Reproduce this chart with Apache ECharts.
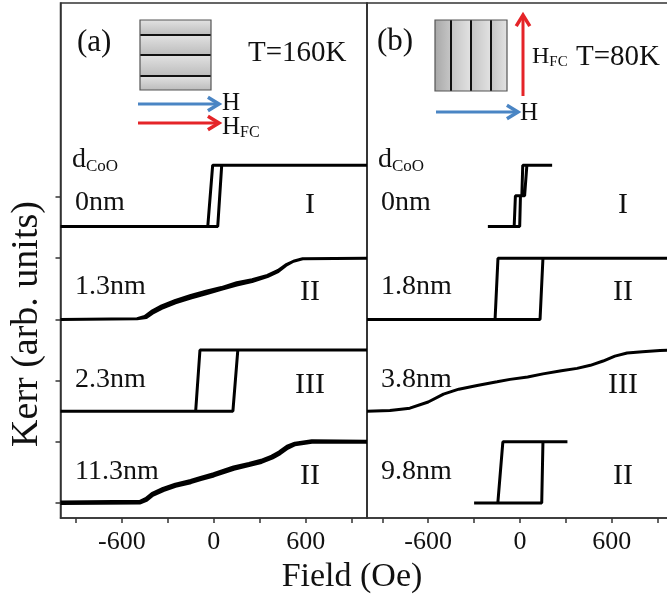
<!DOCTYPE html>
<html>
<head>
<meta charset="utf-8">
<script src="https://cdn.jsdelivr.net/npm/echarts@6/dist/echarts.min.js"></script>
<style>
html, body { margin: 0; padding: 0; background: #fff; }
#chart { width: 667px; height: 600px; }
</style>
</head>
<body>
<div id="chart"></div>
<script>
// field axis (Oe)
var fieldTicks = [-900, -600, -300, 0, 300, 600, 900];
var fieldLabels = [-600, 0, 600];
var kerrTicks = [0, 1, 2, 3, 4, 5];
// vertical shift of each stacked loop (arb. units)
var offsets = [4.52, 3, 1.5, 0];
var thickA = ['0nm', '1.3nm', '2.3nm', '11.3nm'];
var thickB = ['0nm', '1.8nm', '3.8nm', '9.8nm'];
var regimeA = ['I', 'II', 'III', 'II'];
var regimeB = ['I', 'II', 'III', 'II'];

// (a) T=160K, loops as [field, normalized Kerr]
var loopA0 = [[-1000, 0], [26, 0], [52, 1], [1000, 1], [-7, 1], [-39, 0], [-1000, 0]];
var loopA1 = [[-1000, 0], [-500, 0.01], [-440, 0.03], [-400, 0.1], [-340, 0.18], [-250, 0.27], [-150, 0.35],
    [-50, 0.42], [50, 0.49], [150, 0.56], [250, 0.62], [350, 0.7], [420, 0.78], [470, 0.88], [520, 0.95],
    [580, 0.99], [1000, 1], [580, 0.99], [520, 0.95], [470, 0.89], [420, 0.8], [350, 0.72], [250, 0.65],
    [150, 0.6], [50, 0.52], [-50, 0.46], [-150, 0.39], [-250, 0.31], [-340, 0.22], [-400, 0.14],
    [-450, 0.05], [-500, 0.01], [-1000, 0]];
var loopA2 = [[-1000, 0], [125, 0], [157, 1], [1000, 1], [-90, 1], [-118, 0], [-1000, 0]];
var loopA3 = [[-1000, 0], [-480, 0.01], [-440, 0.05], [-400, 0.13], [-330, 0.21], [-250, 0.28], [-150, 0.34],
    [-85, 0.39], [0, 0.45], [130, 0.56], [230, 0.62], [310, 0.67], [380, 0.74], [430, 0.81], [480, 0.9],
    [530, 0.96], [640, 1], [1000, 1], [640, 1.01], [530, 0.97], [480, 0.92], [430, 0.83], [380, 0.76],
    [310, 0.69], [230, 0.64], [130, 0.58], [0, 0.47], [-85, 0.41], [-150, 0.36], [-250, 0.3],
    [-330, 0.23], [-400, 0.15], [-440, 0.07], [-480, 0.02], [-1000, 0.01]];

// (b) T=80K
var loopB0 = [[-210, 0], [-2, 0], [3, 0.5], [30, 0.5], [45, 1], [210, 1], [18, 1], [12, 0.5], [-30, 0.5],
    [-38, 0], [-210, 0]];
var loopB1 = [[-1000, 0], [131, 0], [150, 1], [1000, 1], [-144, 1], [-163, 0], [-1000, 0]];
var loopB2 = [[-1000, 0], [-850, 0.01], [-720, 0.05], [-600, 0.15], [-500, 0.28], [-400, 0.36], [-280, 0.42],
    [-150, 0.48], [-65, 0.52], [50, 0.56], [150, 0.61], [270, 0.66], [373, 0.7], [460, 0.75], [543, 0.82],
    [620, 0.9], [700, 0.95], [800, 0.97], [915, 0.99], [1000, 1]];
var loopB3 = [[-300, 0], [142, 0], [150, 1], [310, 1], [-112, 1], [-145, 0], [-300, 0]];

var loopsA = [loopA0, loopA1, loopA2, loopA3];
var loopsB = [loopB0, loopB1, loopB2, loopB3];

var serif = 'Liberation Serif';
var blue = '#4a85c4';
var red = '#e52428';

var chart = echarts.init(document.getElementById('chart'));

function shifted(loop, k) {
    return loop.map(function (p) { return [p[0], p[1] + offsets[k]]; });
}

var series = [];
for (var i = 0; i < 4; i++) {
    series.push({
        type: 'line', xAxisIndex: 0, yAxisIndex: 0, data: shifted(loopsA[i], i),
        showSymbol: false, animation: false,
        lineStyle: { color: '#000', width: i == 3 ? 4 : 3 }
    });
    series.push({
        type: 'line', xAxisIndex: 1, yAxisIndex: 1, data: shifted(loopsB[i], i),
        showSymbol: false, animation: false,
        lineStyle: { color: '#000', width: 3 }
    });
}

function xAxisOf(grid) {
    return {
        type: 'value', gridIndex: grid, min: -1000, max: 1000,
        axisLine: { show: true, onZero: false, lineStyle: { color: '#333', width: 1.5 } },
        axisTick: { show: true, inside: false, length: 5, customValues: fieldTicks,
            lineStyle: { color: '#333', width: 1.5 } },
        axisLabel: { show: true, customValues: fieldLabels, margin: 11,
            fontFamily: serif, fontSize: 26, color: '#111' },
        splitLine: { show: false }
    };
}

function yAxisOf(grid) {
    return {
        type: 'value', gridIndex: grid, min: -0.245, max: 8.17,
        axisLine: { show: true, onZero: false, lineStyle: { color: '#333', width: 1.5 } },
        axisTick: { show: grid == 0, inside: false, length: 5, customValues: kerrTicks,
            lineStyle: { color: '#333', width: 1.5 } },
        axisLabel: { show: false },
        splitLine: { show: false }
    };
}

var graphics = [];
function addText(x, y, txt, size, align, extra) {
    var el = {
        type: 'text', x: x, y: y, silent: true,
        style: {
            text: txt, fontFamily: serif, fontSize: size, fill: '#111',
            align: align || 'left', verticalAlign: 'middle'
        }
    };
    if (extra) {
        for (var k in extra) { el.style[k] = extra[k]; }
    }
    graphics.push(el);
    return el;
}
function subRich(size) {
    return {
        m: { fontFamily: serif, fontSize: size, fill: '#111' },
        s: { fontFamily: serif, fontSize: Math.round(size * 0.62), fill: '#111', padding: [Math.round(size * 0.45), 0, 0, 0] }
    };
}
function arrow(x1, y1, x2, y2, color) {
    var ang = Math.atan2(y2 - y1, x2 - x1);
    var hl = 13, hw = 0.55;
    graphics.push({
        type: 'polyline', silent: true,
        shape: { points: [[x1, y1], [x2 - Math.cos(ang) * 2, y2 - Math.sin(ang) * 2]] },
        style: { stroke: color, lineWidth: 3 }
    });
    graphics.push({
        type: 'polyline', silent: true,
        shape: { points: [
            [x2 - hl * Math.cos(ang - hw), y2 - hl * Math.sin(ang - hw)],
            [x2, y2],
            [x2 - hl * Math.cos(ang + hw), y2 - hl * Math.sin(ang + hw)]
        ] },
        style: { stroke: color, lineWidth: 3.5, fill: null, lineJoin: 'miter' }
    });
}

// layered sample sketch (a): horizontal stripes
var stripesA = [[20, 35], [35, 55], [55, 76], [76, 90]];
stripesA.forEach(function (s) {
    graphics.push({
        type: 'rect', silent: true, shape: { x: 140, y: s[0], width: 71, height: s[1] - s[0] },
        style: { fill: new echarts.graphic.LinearGradient(0, 0, 0, 1, [
            { offset: 0, color: '#e2e2e2' }, { offset: 1, color: '#bcbcbc' }]) }
    });
});
[35, 55, 76].forEach(function (y) {
    graphics.push({ type: 'line', silent: true, shape: { x1: 140, y1: y, x2: 211, y2: y },
        style: { stroke: '#111', lineWidth: 2 } });
});
graphics.push({ type: 'rect', silent: true, shape: { x: 140, y: 20, width: 71, height: 70 },
    style: { fill: null, stroke: '#555', lineWidth: 1.2 } });

// (b): vertical stripes
var stripesB = [[435, 451], [451, 471], [471, 491], [491, 507]];
stripesB.forEach(function (s, k) {
    graphics.push({
        type: 'rect', silent: true, shape: { x: s[0], y: 20, width: s[1] - s[0], height: 71 },
        style: { fill: new echarts.graphic.LinearGradient(0, 0, 1, 0, [
            { offset: 0, color: k == 0 ? '#a8a8a8' : '#c4c4c4' },
            { offset: 1, color: k == 0 ? '#c6c6c6' : '#e2e2e2' }]) }
    });
});
[451, 471, 491].forEach(function (x) {
    graphics.push({ type: 'line', silent: true, shape: { x1: x, y1: 20, x2: x, y2: 91 },
        style: { stroke: '#111', lineWidth: 2 } });
});
graphics.push({ type: 'rect', silent: true, shape: { x: 435, y: 20, width: 72, height: 71 },
    style: { fill: null, stroke: '#555', lineWidth: 1.2 } });

arrow(138, 104, 219, 104, blue);
arrow(138, 123, 219, 123, red);
arrow(436, 112, 518, 112, blue);
arrow(523, 96, 523, 15, red);

addText(77, 43, '(a)', 31);
addText(248, 53, 'T=160K', 29);
addText(222, 103, 'H', 25);
addText(222, 127, '{m|H}{s|FC}', 25, 'left', { rich: subRich(25) });
addText(377, 42, '(b)', 31);
addText(532, 57, '{m|H}{s|FC}', 24, 'left', { rich: subRich(24) });
addText(576, 57, 'T=80K', 29);
addText(520, 113, 'H', 25);
addText(72, 160, '{m|d}{s|CoO}', 28, 'left', { rich: subRich(28) });
addText(378, 160, '{m|d}{s|CoO}', 28, 'left', { rich: subRich(28) });

var labelY = [203, 287, 380, 472];
var romanY = [205, 292, 385, 476];
for (var j = 0; j < 4; j++) {
    addText(75, labelY[j], thickA[j], 28);
    addText(381, labelY[j], thickB[j], 28);
    addText(310, romanY[j], regimeA[j], 30, 'center');
    addText(623, romanY[j], regimeB[j], 30, 'center');
}

addText(352, 577, 'Field (Oe)', 34, 'center');
var kerr = addText(27, 324, 'Kerr (arb. units)', 38, 'center');
kerr.rotation = Math.PI / 2;

var option = {
    backgroundColor: '#fff',
    animation: false,
    grid: [
        { left: 60.5, top: 3, width: 306.5, height: 515, show: true, borderColor: '#333', borderWidth: 1.5,
            outerBoundsMode: 'none', containLabel: false },
        { left: 367, top: 3, width: 306, height: 515, show: true, borderColor: '#333', borderWidth: 1.5,
            outerBoundsMode: 'none', containLabel: false }
    ],
    xAxis: [xAxisOf(0), xAxisOf(1)],
    yAxis: [yAxisOf(0), yAxisOf(1)],
    series: series,
    graphic: graphics
};
chart.setOption(option);
</script>
</body>
</html>
